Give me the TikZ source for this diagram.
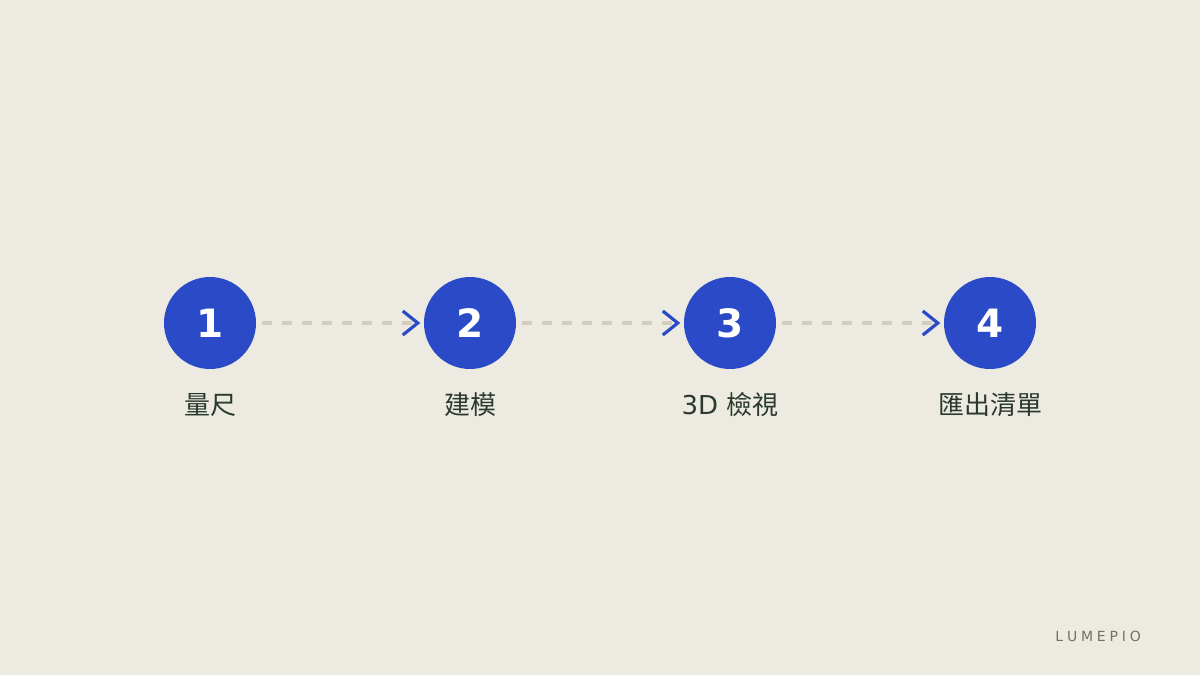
\documentclass[tikz,border=0pt]{standalone}
\usepackage{fontspec}
\setmainfont{DejaVu Sans}
\newfontfamily\cjk{Noto Sans CJK TC}
\usetikzlibrary{arrows.meta}
\definecolor{bgc}{HTML}{EDEBE1}
\definecolor{stepblue}{HTML}{2A4AC8}
\definecolor{dashc}{HTML}{D2CDBD}
\definecolor{labc}{HTML}{2B3A2E}
\definecolor{brandc}{HTML}{6E7368}
\begin{document}
\begin{tikzpicture}[x=1pt,y=-1pt,
  stepcircle/.style={circle,fill=stepblue,minimum size=92pt,inner sep=0pt,
    text=white,font=\fontsize{39}{40}\selectfont\bfseries},
  steplabel/.style={text=labc,font=\fontsize{26}{30}\selectfont,inner sep=0pt},
  link/.style={draw=dashc,line width=4pt,dash pattern=on 10pt off 10pt},
  chev/.style={draw=stepblue,line width=3.2pt}]
\fill[bgc] (0,0) rectangle (1200,675);
\useasboundingbox (0,0) rectangle (1200,675);
\foreach \i/\x/\t in {1/210/{\cjk 量尺},2/470/{\cjk 建模},3/730/{3D {\cjk 檢視}},4/990/{\cjk 匯出清單}}{
  \node[stepcircle] (c\i) at (\x,323) {\i};
  \node[steplabel] (l\i) at (\x,405) {\t};
}
\foreach \a/\b in {1/2,2/3,3/4}{
  \coordinate (s\a) at ([xshift=6pt]c\a.east);
  \coordinate (e\a) at ([xshift=-6pt]c\b.west);
  \path[link] (s\a) -- (e\a);
  \draw[chev] ([xshift=-15pt,yshift=-12pt]e\a) -- (e\a) -- ([xshift=-15pt,yshift=12pt]e\a);
}
\node[anchor=east,text=brandc,font=\fontsize{14}{16}\selectfont,inner sep=0pt] (brand) at (1141,636) {L\hspace{3.8pt}U\hspace{3.8pt}M\hspace{3.8pt}E\hspace{3.8pt}P\hspace{3.8pt}I\hspace{3.8pt}O};
\end{tikzpicture}
\end{document}
